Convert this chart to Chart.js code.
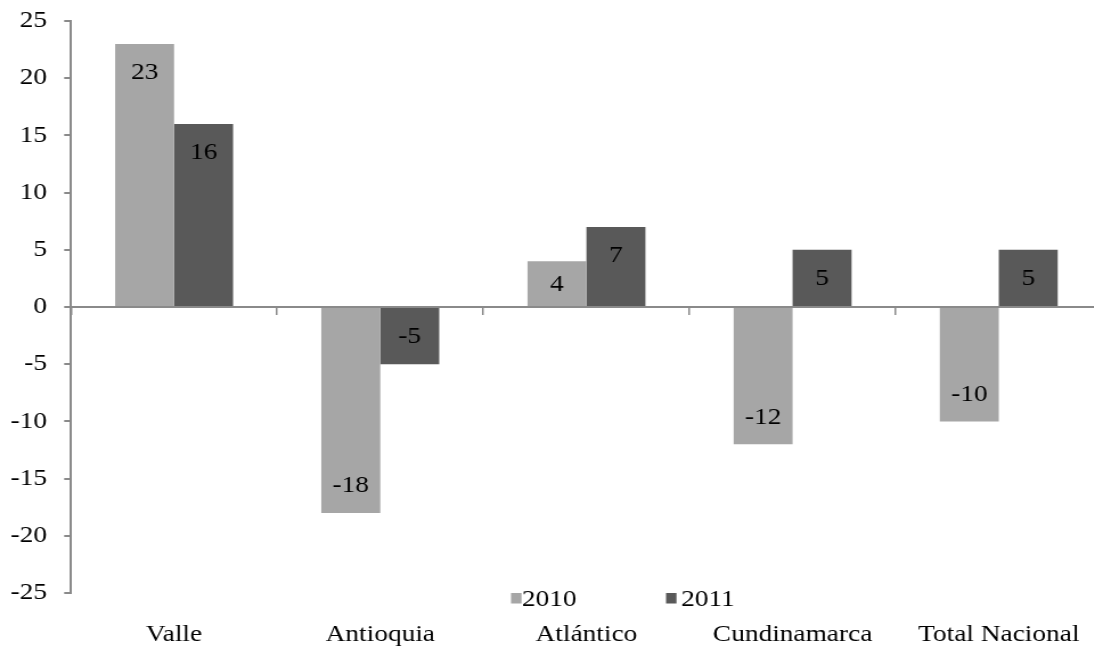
<!DOCTYPE html>
<html>
<head>
<meta charset="utf-8">
<script src="https://cdn.jsdelivr.net/npm/chart.js@4.4.1/dist/chart.umd.min.js"></script>
<style>
html,body{margin:0;padding:0;overflow:hidden;background:#fff}
#wrap{width:1094px;height:646px;overflow:hidden;position:relative;background:#fff}
canvas{display:block}
</style>
</head>
<body>
<div id="wrap"><canvas id="c" width="968" height="646" style="width:1103px;height:646px"></canvas></div>
<script>
const categories = ['Valle', 'Antioquia', 'Atlántico', 'Cundinamarca', 'Total Nacional'];
const series2010 = [23, -18, 4, -12, -10];
const series2011 = [16, -5, 7, 5, 5];
const seriesNames = ['2010', '2011'];
const yMin = -25, yMax = 25, yStep = 5;

const SX = 1103 / 968;           // horizontal display stretch of the canvas
const FONT = '"Liberation Serif", "Times New Roman", serif';
const FS = 24;
const AXIS = '#8a8a8a';
const COLORS = ['#a6a6a6', '#595959'];

const valueLabels = {
  id: 'valueLabels',
  afterDatasetsDraw(chart) {
    const ctx = chart.ctx;
    ctx.save();
    ctx.font = FS + 'px ' + FONT;
    ctx.fillStyle = '#000';
    ctx.textAlign = 'center';
    ctx.textBaseline = 'middle';
    chart.data.datasets.forEach((ds, i) => {
      const meta = chart.getDatasetMeta(i);
      meta.data.forEach((bar, j) => {
        const v = ds.data[j];
        const len = Math.abs(bar.base - bar.y);
        let y;
        if (len < 56) y = (bar.y + bar.base) / 2;
        else y = v >= 0 ? bar.y + 28 : bar.y - 28;
        ctx.fillText(String(v), bar.x, y + 1);
      });
    });
    ctx.restore();
  }
};

const legendPlugin = {
  id: 'customLegend',
  afterDraw(chart) {
    const ctx = chart.ctx;
    const sq = [511, 666], tx = [522, 681];
    const yc = 599;
    ctx.save();
    ctx.font = FS + 'px ' + FONT;
    ctx.textBaseline = 'middle';
    ctx.textAlign = 'left';
    chart.data.datasets.forEach((ds, i) => {
      ctx.fillStyle = ds.backgroundColor;
      ctx.fillRect(sq[i] / SX, yc - 6, 10.5 / SX, 10.5);
      ctx.fillStyle = '#000';
      ctx.fillText(ds.label, tx[i] / SX, yc + 1);
    });
    ctx.restore();
  }
};

new Chart(document.getElementById('c'), {
  type: 'bar',
  data: {
    labels: categories,
    datasets: [
      { label: seriesNames[0], data: series2010, backgroundColor: COLORS[0], borderWidth: 0,
        categoryPercentage: 0.572, barPercentage: 1 },
      { label: seriesNames[1], data: series2011, backgroundColor: COLORS[1], borderWidth: 0,
        categoryPercentage: 0.572, barPercentage: 1 }
    ]
  },
  options: {
    responsive: false,
    animation: false,
    devicePixelRatio: 1,
    layout: { padding: { top: 21, right: 1, left: 0, bottom: 0 } },
    plugins: { legend: { display: false }, tooltip: { enabled: false } },
    scales: {
      x: {
        position: 'bottom',
        grid: { display: false, drawTicks: false },
        border: { display: false },
        ticks: { color: '#000', font: { family: FONT, size: FS }, padding: 27, maxRotation: 0, autoSkip: false },
        afterFit(s) { s.height = 53; s.paddingLeft = 0; s.paddingRight = 0; }
      },
      x2: {
        axis: 'x',
        type: 'category',
        position: { y: 0 },
        offset: true,
        grid: { offset: true, drawOnChartArea: false, drawTicks: true, tickLength: 7, color: AXIS, lineWidth: 1.5 },
        border: { display: true, color: AXIS, width: 2 },
        ticks: { display: false },
        afterFit(s) { s.paddingLeft = 0; s.paddingRight = 0; }
      },
      y: {
        min: yMin, max: yMax,
        ticks: { stepSize: yStep, color: '#000', font: { family: FONT, size: FS }, padding: 15 },
        grid: { drawOnChartArea: false, drawTicks: true, tickLength: 6, color: AXIS, lineWidth: 2 },
        border: { display: true, color: AXIS, width: 2 },
        afterFit(s) { s.width = 71 / SX; s.paddingTop = 0; s.paddingBottom = 0; }
      }
    }
  },
  plugins: [valueLabels, legendPlugin]
});
</script>
</body>
</html>
